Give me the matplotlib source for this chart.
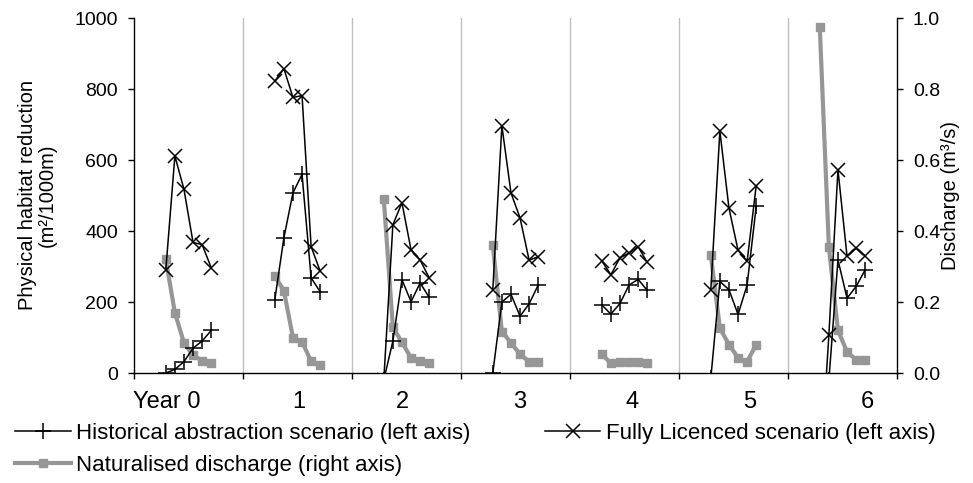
import numpy as np
import matplotlib
matplotlib.use('Agg')
import matplotlib.pyplot as plt
from matplotlib.ticker import FixedLocator, FixedFormatter, FormatStrFormatter, NullFormatter

plt.rcParams['font.family'] = ['Liberation Sans', 'DejaVu Sans']

# ---------------- data ----------------
year_labels = ['Year 0', '1', '2', '3', '4', '5', '6']
months_per_year = 12
sample_months = [3, 4, 5, 6, 7, 8]          # month index within each year

# Physical habitat reduction (m2/1000m), one row per year
historical = [
    [0, 10, 32, 70, 90, 120],
    [206, 381, 508, 560, 268, 229],
    [-20, 90, 263, 201, 254, 213],
    [0, 200, 222, 160, 195, 248],
    [192, 166, 196, 248, 264, 233],
    [-15, 258, 235, 165, 248, 470],
    [-100, -20, 319, 211, 244, 291],
]
fully_licenced = [
    [290, 612, 518, 368, 362, 297],
    [823, 858, 777, 782, 356, 287],
    [-20, 418, 480, 347, 319, 268],
    [234, 697, 508, 437, 318, 328],
    [316, 277, 325, 338, 356, 312],
    [234, 682, 465, 346, 315, 528],
    [-300, 107, 573, 329, 352, 330],
]
# Naturalised discharge (m3/s)
naturalised = [
    [0.32, 0.17, 0.085, 0.05, 0.035, 0.027],
    [0.274, 0.232, 0.10, 0.088, 0.033, 0.022],
    [0.49, 0.13, 0.086, 0.043, 0.033, 0.027],
    [0.36, 0.117, 0.085, 0.053, 0.032, 0.032],
    [0.053, 0.027, 0.031, 0.031, 0.031, 0.027],
    [0.333, 0.127, 0.08, 0.043, 0.032, 0.08],
    [0.975, 0.355, 0.12, 0.06, 0.037, 0.037],
]

# x tick-label positions (in category units) as seen in the reference
label_positions = [3.63, 18.15, 29.6, 42.5, 54.8, 67.8, 80.7]


def build(series):
    xs, ys = [], []
    for y, row in enumerate(series):
        for m, v in zip(sample_months, row):
            xs.append(y * months_per_year + m + 0.5)
            ys.append(v)
        xs.append(np.nan)
        ys.append(np.nan)
    return np.array(xs), np.array(ys)


W, H = 973, 483
fig = plt.figure(figsize=(W / 100, H / 100), dpi=100)
left, right, top, bottom = 134, 897, 18.3, 373
ax = fig.add_axes([left / W, 1 - bottom / H, (right - left) / W, (bottom - top) / H])
ax2 = ax.twinx()
ax.set_zorder(ax2.get_zorder() + 1)
ax.patch.set_visible(False)

n_years = len(year_labels)
ax.set_xlim(0, n_years * months_per_year)
ax.set_ylim(0, 1000)
ax2.set_ylim(0, 1.0)

gray = '#969696'
xn, yn = build(naturalised)
h_nat, = ax2.plot(xn, yn, color=gray, lw=3.0, marker='s', ms=5.5,
                  mfc=gray, mec=gray, solid_joinstyle='round')
xh, yh = build(historical)
h_hist, = ax.plot(xh, yh, color='black', lw=1.1, marker='+', ms=11, mew=1.1)
xf, yf = build(fully_licenced)
h_fl, = ax.plot(xf, yf, color='black', lw=1.1, marker='x', ms=10, mew=1.1)

# vertical year separators
for k in range(1, n_years):
    ax.axvline(k * months_per_year, color='#c0c0c0', lw=1.0, zorder=0)

# spines
for s in ['top', 'right']:
    ax.spines[s].set_visible(False)
for s in ['top', 'left', 'bottom']:
    ax2.spines[s].set_visible(False)
for a in (ax, ax2):
    for s in a.spines.values():
        s.set_color('black')
        s.set_linewidth(1.0)

# x axis
ax.xaxis.set_major_locator(FixedLocator(np.arange(0, n_years * months_per_year + 1, months_per_year)))
ax.xaxis.set_major_formatter(NullFormatter())
ax.xaxis.set_minor_locator(FixedLocator(label_positions))
ax.xaxis.set_minor_formatter(FixedFormatter(year_labels))
ax.tick_params(axis='x', which='major', direction='out', length=4, width=1, color='black')
ax.tick_params(axis='x', which='minor', length=0, pad=13, labelsize=17)

# left y axis
ax.set_yticks(np.arange(0, 1001, 200))
ax.tick_params(axis='y', direction='out', length=4, width=1, pad=7.5, labelsize=14)

# right y axis
ax2.set_yticks(np.arange(0, 1.01, 0.2))
ax2.yaxis.set_major_formatter(FormatStrFormatter('%.1f'))
ax2.tick_params(axis='y', direction='out', length=4, width=1, pad=7.5, labelsize=14)

# axis titles
fig.text(37 / W, 1 - 195.5 / H, 'Physical habitat reduction\n(m²/1000m)',
         rotation=90, ha='center', va='center', fontsize=14.5,
         multialignment='center', linespacing=1.05)
fig.text(951 / W, 1 - 195.5 / H, 'Discharge (m³/s)',
         rotation=90, ha='center', va='center', fontsize=14.5)

# legend
fig.legend([h_hist, h_nat, h_fl],
           ['Historical abstraction scenario (left axis)',
            'Naturalised discharge (right axis)',
            'Fully Licenced scenario (left axis)'],
           ncol=2, loc='upper left', bbox_to_anchor=(15 / W, 1 - 423 / H),
           frameon=False, fontsize=16, handlelength=2.5, handletextpad=0.25,
           columnspacing=3.35, borderpad=0, borderaxespad=0, labelspacing=0.5)

fig.savefig('out.png', dpi=100)
